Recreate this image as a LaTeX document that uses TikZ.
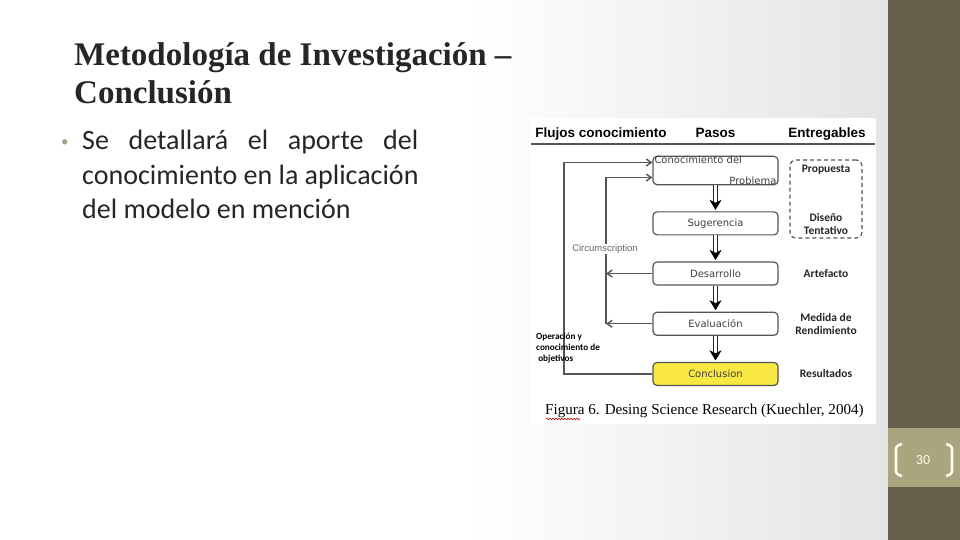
\documentclass[tikz,border=0pt]{standalone}
\usepackage{fontspec}
\setmainfont{Carlito}
\newfontfamily\titlefont{Liberation Serif}
\newfontfamily\arialfont{Liberation Sans}
\newfontfamily\pasofont{DejaVu Sans}
\usetikzlibrary{arrows.meta,positioning,calc,decorations.pathmorphing}
\definecolor{barra}{HTML}{665F49}
\definecolor{numcaja}{HTML}{A9A57F}
\definecolor{numtexto}{HTML}{FFFBE6}
\definecolor{tinta}{HTML}{262626}
\definecolor{vineta}{HTML}{A6A38C}
\definecolor{fondogris}{HTML}{E4E4E4}
\definecolor{lineagris}{HTML}{555555}
\definecolor{amarillo}{HTML}{F9E843}
\tikzset{
  titulo/.style={font=\titlefont\bfseries\fontsize{33}{36}\selectfont, text=tinta,
                 anchor=base west, inner sep=0pt},
  cuerpo/.style={font=\fontsize{28}{34}\selectfont, text=tinta, anchor=base west, inner sep=0pt},
  paso/.style={draw=lineagris, rounded corners=4pt, line width=1.2pt, fill=white,
               minimum width=125pt, minimum height=23pt, inner sep=1pt,
               font=\pasofont\fontsize{10}{11}\selectfont, text=black!75},
  pasoamar/.style={paso, fill=amarillo},
  encab/.style={font=\arialfont\bfseries\fontsize{13.5}{14}\selectfont, inner sep=0pt,
                anchor=base},
  entreg/.style={font=\bfseries\fontsize{11.5}{13}\selectfont, align=center, inner sep=0pt,
                 text=black!85},
  flujo/.style={-{Straight Barb[length=5pt,width=7pt]}, draw=lineagris, line width=1.4pt},
  doble/.style={draw=black!85, line width=1.1pt, double=white, double distance=2.6pt,
                shorten >=9pt},
  punta/.style={-{Stealth[length=10pt,width=12pt,inset=3pt,color=black]}, draw=white,
                line width=0.5pt, shorten <=14pt, shorten >=1.5pt},
  corchete/.style={draw=numtexto, line width=2.6pt, rounded corners=3pt},
}
\begin{document}
\begin{tikzpicture}[x=1pt, y=-1pt, node distance=26pt]
  \useasboundingbox (0,0) rectangle (960,540);
  % fondo de la diapositiva
  \fill[white] (0,0) rectangle (888,540);
  \shade[left color=white, right color=fondogris] (470,0) rectangle (888,540);
  \fill[barra] (888,0) rectangle (960,540);
  \fill[numcaja] (888,428) rectangle (960,487);
  \node[font=\fontsize{14}{14}\selectfont, text=numtexto] (num) at (923,460) {30};
  \draw[corchete] (902,444) -- (896,446) -- (896,474) -- (902,476);
  \draw[corchete] (946,444) -- (952,446) -- (952,474) -- (946,476);

  % titulo y texto
  \node[titulo] (tit1) at (74,66) {Metodología de Investigación –};
  \node[titulo] (tit2) at (74,104) {Conclusión};
  \node[cuerpo, text=vineta, font=\fontsize{15}{15}\selectfont] (vin) at (61,147) {•};
  \node[cuerpo] (lin1) at (82,150) {\makebox[336pt][s]{Se detallará el aporte del}};
  \node[cuerpo] (lin2) at (82,184) {conocimiento en la aplicación};
  \node[cuerpo] (lin3) at (82,218) {del modelo en mención};

  % figura
  \fill[white] (530,118) rectangle (876,424);
  \node[encab] (hflujo) at (601,138) {Flujos conocimiento};
  \node[encab] (hpaso) at (715.5,138) {Pasos};
  \node[encab] (hentreg) at (827,138) {Entregables};
  \draw[lineagris, line width=1.4pt] (531,144) -- (875,144);

  % pasos
  \node[paso, text width=122pt, align=left, inner ysep=0pt, inner xsep=1pt] (conoc) at (715.5,170.5)
    {\fontsize{10}{9.6}\selectfont Conocimiento del\\\null\hfill Problema};
  \node[paso, below=of conoc] (suger) {Sugerencia};
  \node[paso, below=of suger] (desarr) {Desarrollo};
  \node[paso, below=of desarr] (evalu) {Evaluación};
  \node[pasoamar, below=of evalu] (concl) {Conclusion};
  \foreach \a/\b in {conoc/suger, suger/desarr, desarr/evalu, evalu/concl} {
    \draw[doble] (\a) -- (\b);
    \draw[punta] (\a) -- (\b);
  }

  % entregables
  \node[draw=lineagris, dashed, dash pattern=on 4pt off 3pt, line width=1.2pt,
        rounded corners=6pt, minimum width=72pt, minimum height=78pt] (propdis) at (826,199) {};
  \node[entreg] (prop) at (826,170) {Propuesta};
  \node[entreg] (disen) at (826,224) {Diseño\\Tentativo};
  \node[entreg] (artef) at (desarr -| propdis) {Artefacto};
  \node[entreg] (medida) at (evalu -| propdis) {Medida de\\Rendimiento};
  \node[entreg] (result) at (concl -| propdis) {Resultados};

  % flujos de conocimiento
  \coordinate (ext) at (564,0);
  \coordinate (int) at (606,0);
  \draw[flujo] (concl.west) -- (concl.west -| ext) |- ([yshift=8pt]conoc.west);
  \draw[flujo] (evalu.west -| int) |- ([yshift=-7pt]conoc.west);
  \draw[flujo] (desarr.west) -- (desarr.west -| int);
  \draw[flujo] (evalu.west) -- (evalu.west -| int);
  \node[font=\arialfont\fontsize{9.5}{10}\selectfont, text=black!60, fill=white, inner sep=1pt]
    (circ) at (605,249) {Circumscription};
  \node[font=\bfseries\fontsize{9.2}{11}\selectfont, align=left, inner sep=0pt, anchor=west]
    (operac) at (536,348) {Operación y\\conocimiento de\\\ objetivos};

  % pie de figura
  \node[font=\titlefont\fontsize{15.1}{16}\selectfont, inner sep=0pt, anchor=base west]
    (pie) at (545,414) {Figura 6. Desing Science Research (Kuechler, 2004)};
  \draw[red!80!black, line width=0.6pt, decorate,
        decoration={snake, amplitude=0.8pt, segment length=3pt}] (546,419) -- (580,419);
\end{tikzpicture}
\end{document}
